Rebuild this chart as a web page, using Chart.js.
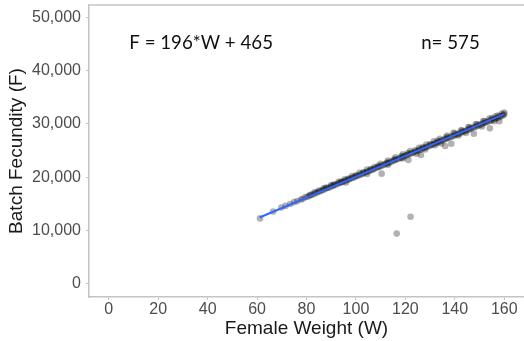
<!DOCTYPE html>
<html>
<head>
<meta charset="utf-8">
<script src="https://cdn.jsdelivr.net/npm/chart.js@4.4.1/dist/chart.umd.min.js"></script>
<style>
  html, body { margin: 0; padding: 0; background: #fff; overflow: hidden; }
</style>
</head>
<body>
<canvas id="chart" width="528" height="341"></canvas>
<script>
// female weight (W) and batch fecundity (F)
weights = [
  61.2, 66.5, 69.8, 71.5, 73.4, 75.0, 76.3, 77.8, 78.5, 79.6,
  80.4, 81.2, 82.0, 82.9, 83.7, 84.5, 85.3, 86.1, 86.8, 87.6,
  88.4, 89.1, 89.9, 90.6, 91.4, 92.1, 92.9, 93.6, 94.4, 95.1,
  95.8, 96.6, 97.3, 98.1, 98.8, 99.5, 100.3, 101.0, 101.8, 102.5,
  103.2, 104.0, 104.7, 105.4, 106.2, 106.9, 107.6, 108.4, 109.1, 109.8,
  110.4, 110.6, 111.3, 112.0, 112.8, 113.5, 114.2, 115.0, 115.7, 116.4,
  116.5, 117.2, 117.9, 118.6, 119.4, 120.1, 120.8, 121.2, 121.5, 122.1,
  122.3, 123.0, 123.7, 124.5, 125.2, 125.9, 126.3, 126.6, 127.4, 128.1,
  128.8, 129.6, 130.3, 131.0, 131.8, 132.5, 133.2, 134.0, 134.7, 135.4,
  136.1, 136.2, 136.9, 137.6, 138.4, 138.6, 139.1, 139.8, 140.6, 141.3,
  142.0, 142.8, 143.5, 144.2, 145.0, 145.7, 146.4, 147.2, 147.7, 147.9,
  148.6, 149.4, 150.1, 150.8, 151.6, 152.3, 153.0, 153.8, 154.2, 154.5,
  155.2, 156.0, 156.7, 157.4, 158.0, 158.2, 158.9, 159.6, 160.0, 160.0,
  83.3, 88.0, 91.0, 94.0, 97.0, 100.0, 103.0, 106.0, 109.0, 112.5,
  115.5, 118.5, 121.0, 124.0, 127.0, 130.0, 133.0, 136.5, 140.0, 143.0,
  146.0, 149.0, 152.0, 155.0, 157.5,
  96.0, 104.5, 113.0, 119.0, 128.0, 132.0, 141.5, 144.5, 151.0, 156.0,
  134.5, 124.5,
  81.5, 85.0, 87.0, 90.0, 93.0, 95.5, 98.5, 101.5, 104.5, 107.5,
  110.0, 113.0, 116.0, 119.0, 122.0, 125.5, 128.5, 131.5, 134.0, 137.0,
  139.5, 142.5, 145.5, 148.5, 151.5, 154.0, 156.5, 159.0
];
fecundity = [
  12250, 13550, 14300, 14600, 14950, 15300, 15500, 15800, 15950, 16250,
  16300, 16500, 16700, 16800, 17000, 17150, 17300, 17500, 17600, 17800,
  17950, 18000, 18250, 18350, 18500, 18650, 18800, 18950, 19050, 19200,
  19350, 19500, 19600, 19800, 19900, 20000, 20200, 20300, 20450, 20600,
  20750, 20900, 21050, 21150, 21350, 21450, 21600, 21750, 21900, 22000,
  20650, 22200, 22300, 22450, 22600, 22750, 22850, 23050, 23150, 23300,
  9400, 23450, 23600, 23700, 23900, 24050, 24150, 23200, 24300, 12550,
  24450, 24550, 24700, 24850, 25000, 25150, 24150, 25250, 25450, 25550,
  25700, 25850, 26000, 26100, 26300, 26400, 26550, 26700, 26850, 26950,
  25850, 27150, 27250, 27400, 27550, 26250, 27650, 27800, 27950, 28100,
  28200, 28400, 28500, 28650, 28800, 28950, 29050, 29250, 28150, 29350,
  29500, 29650, 29800, 29900, 30100, 30200, 30350, 30500, 29150, 30600,
  30750, 30900, 31050, 31150, 30500, 31350, 31450, 31600, 32100, 31800,
  17150, 18050, 18600, 19150, 19750, 20350, 20900, 21500, 22100, 22750,
  23350, 23950, 24500, 25050, 25650, 26200, 26800, 27500, 28200, 28750,
  29350, 29950, 30500, 31100, 31550,
  19000, 20600, 22300, 23500, 25200, 26000, 27800, 28300, 29500, 30500,
  26300, 24400,
  16700, 17500, 17900, 18500, 19100, 19600, 20200, 20800, 21400, 21900,
  22500, 23100, 23700, 24300, 24900, 25500, 26100, 26700, 27200, 27800,
  28300, 28800, 29400, 29900, 30500, 31000, 31400, 31900
];

// fitted line F = 196*W + 465, drawn between the observed weight extremes
fitW = [61, 160];
fitF = [12421, 31825];

xTicks = [0, 20, 40, 60, 80, 100, 120, 140, 160];
yTicks = [0, 10000, 20000, 30000, 40000, 50000];

equationText = 'F = 196*W + 465';
countText = 'n= 575';

AXIS_GRAY = '#c4c4c4';
TICK_COLOR = '#4d4d4d';

points = weights.map((w, i) => ({ x: w, y: fecundity[i] }));
fitLine = fitW.map((w, i) => ({ x: w, y: fitF[i] }));

// top edge of the panel plus the two text notes
panelExtras = {
    id: 'panelExtras',
    afterDraw(chart) {
        const { ctx, chartArea, scales } = chart;
        ctx.save();
        ctx.strokeStyle = AXIS_GRAY;
        ctx.lineWidth = 1.5;
        ctx.beginPath();
        ctx.moveTo(chartArea.left, chartArea.top);
        ctx.lineTo(chartArea.right, chartArea.top);
        ctx.stroke();

        ctx.fillStyle = '#111';
        ctx.font = '18.7px Lato';
        ctx.textBaseline = 'middle';
        ctx.textAlign = 'left';
        ctx.fillText(equationText, scales.x.getPixelForValue(8.3), scales.y.getPixelForValue(45200));
        ctx.fillText(countText, scales.x.getPixelForValue(126.4), scales.y.getPixelForValue(45200));
        ctx.restore();
    }
};

ctx = document.getElementById('chart');

chart = new Chart(ctx, {
    type: 'scatter',
    data: {
        datasets: [
            {
                label: 'fit',
                data: fitLine,
                showLine: true,
                borderColor: '#3366ff',
                borderWidth: 2,
                pointRadius: 0,
                order: 0
            },
            {
                label: 'fish',
                data: points,
                backgroundColor: 'rgba(0,0,0,0.3)',
                borderWidth: 0,
                pointRadius: 3.3,
                order: 1
            }
        ]
    },
    options: {
        responsive: false,
        animation: false,
        devicePixelRatio: 1,
        layout: {
            padding: { top: 5, right: 2, bottom: 0, left: 0 }
        },
        scales: {
            x: {
                type: 'linear',
                min: -8,
                max: 168,
                afterBuildTicks: (axis) => {
                    axis.ticks = xTicks.map(v => ({ value: v }));
                },
                afterFit: (axis) => {
                    axis.height = 44;
                    axis.paddingLeft = 0;
                    axis.paddingRight = 0;
                },
                grid: {
                    drawOnChartArea: false,
                    tickLength: 3,
                    color: AXIS_GRAY,
                    lineWidth: 1
                },
                border: { color: AXIS_GRAY, width: 1.5 },
                ticks: {
                    padding: 0,
                    color: TICK_COLOR,
                    font: { family: 'Liberation Sans', size: 16 },
                    maxRotation: 0
                },
                title: {
                    display: true,
                    text: 'Female Weight (W)',
                    color: '#1a1a1a',
                    font: { family: 'Liberation Sans', size: 19 },
                    padding: { top: 0, bottom: 1 }
                }
            },
            y: {
                type: 'linear',
                min: -2500,
                max: 52300,
                afterBuildTicks: (axis) => {
                    axis.ticks = yTicks.map(v => ({ value: v }));
                },
                afterFit: (axis) => {
                    axis.width = 89;
                    axis.paddingTop = 0;
                    axis.paddingBottom = 0;
                },
                grid: {
                    drawOnChartArea: false,
                    tickLength: 3,
                    color: AXIS_GRAY,
                    lineWidth: 1
                },
                border: { color: AXIS_GRAY, width: 1.5 },
                ticks: {
                    padding: 5,
                    color: TICK_COLOR,
                    font: { family: 'Liberation Sans', size: 16 },
                    callback: (v) => v.toLocaleString('en-US')
                },
                title: {
                    display: true,
                    text: 'Batch Fecundity (F)',
                    color: '#1a1a1a',
                    font: { family: 'Liberation Sans', size: 19 },
                    padding: { top: 5, bottom: 0 }
                }
            }
        },
        plugins: {
            legend: { display: false },
            tooltip: { enabled: false }
        }
    },
    plugins: [panelExtras]
});
</script>
</body>
</html>
